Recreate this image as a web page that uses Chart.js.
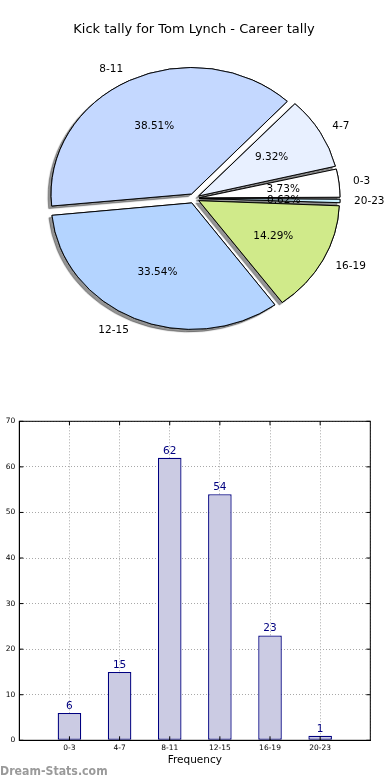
<!DOCTYPE html>
<html>
<head>
<meta charset="utf-8">
<script src="https://cdn.jsdelivr.net/npm/chart.js@4"></script>
<style>
  body { margin: 0; background: #fff; width: 390px; height: 780px; overflow: hidden; position: relative; }
  canvas { position: absolute; left: 0; }
  #pieChart { top: 0; }
  #barChart { top: 400px; }
  #mark { position: absolute; left: 0; top: 763px; font: bold 11px 'DejaVu Sans', sans-serif; color: #9a9a9a; transform: scaleY(1.15); transform-origin: left top; }
</style>
</head>
<body>
<canvas id="pieChart" width="390" height="400"></canvas>
<canvas id="barChart" width="390" height="380"></canvas>
<div id="mark">Dream-Stats.com</div>
<script>
const categories = ['0-3', '4-7', '8-11', '12-15', '16-19', '20-23'];
const kicks = [6, 15, 62, 54, 23, 1];
const sliceColors = ['#ffffff', '#e8f0ff', '#c4d8ff', '#b4d4ff', '#d0ea8a', '#c8f0ff'];
const yTicks = [0, 10, 20, 30, 40, 50, 60, 70];

Chart.defaults.font.family = "'DejaVu Sans', sans-serif";
Chart.defaults.color = '#000';

const total = kicks.reduce((a, b) => a + b, 0);
// matplotlib goes counter-clockwise from 3 o'clock, chart.js clockwise -> reverse
const pieLabels = categories.slice().reverse();
const pieValues = kicks.slice().reverse();
const pieColors = sliceColors.slice().reverse();

const squash = 0.9;    // the pie in the picture is a bit flattened
const pieR = 140.5;
const shift = 5.5;     // explode distance in px
const explode = shift * 4;   // chart.js moves a slice by offset/4

const ellipsePlugin = {
  id: 'ellipse',
  beforeDatasetsDraw(chart) {
    const ctx = chart.ctx;
    const arcs = chart.getDatasetMeta(0).data;
    // chart.js grows each offset slice by a bit, take it back so all have the same radius
    arcs.forEach(el => {
      const circ = el.endAngle - el.startAngle;
      el.outerRadius = pieR - shift * (1 - Math.sin(Math.min(Math.PI, circ)));
    });
    const cx = arcs[0].x, cy = arcs[0].y;
    ctx.save();
    ctx.translate(cx, cy);
    ctx.scale(1, squash);
    ctx.translate(-cx, -cy);
    // shadows first, below every wedge
    ctx.save();
    ctx.shadowColor = 'rgba(0,0,0,0.42)';
    ctx.shadowOffsetX = -3;
    ctx.shadowOffsetY = 2.5;
    ctx.shadowBlur = 1;
    arcs.forEach(el => el.draw(ctx));
    ctx.restore();
  },
  afterDatasetsDraw(chart) {
    const ctx = chart.ctx;
    ctx.restore();
    const arcs = chart.getDatasetMeta(0).data;
    ctx.save();
    ctx.font = "10.5px 'DejaVu Sans', sans-serif";
    ctx.fillStyle = '#000';
    ctx.textBaseline = 'middle';
    arcs.forEach((el, i) => {
      const mid = (el.startAngle + el.endAngle) / 2;
      const c = Math.cos(mid), s = Math.sin(mid);
      // category label outside
      const lr = shift + 1.1 * pieR;
      ctx.textAlign = c > 0 ? 'left' : 'right';
      ctx.fillText(pieLabels[i], el.x + c * lr, el.y + s * lr * squash);
      // percentage inside
      const pr = shift + 0.6 * pieR;
      ctx.textAlign = 'center';
      ctx.fillText((pieValues[i] / total * 100).toFixed(2) + '%', el.x + c * pr, el.y + s * pr * squash);
    });
    ctx.restore();
  }
};

new Chart(document.getElementById('pieChart'), {
  type: 'pie',
  data: {
    labels: pieLabels,
    datasets: [{
      data: pieValues,
      backgroundColor: pieColors,
      borderColor: '#000',
      borderWidth: 1,
      offset: explode
    }]
  },
  options: {
    responsive: false,
    animation: false,
    rotation: 90,
    radius: pieR,
    layout: { padding: { left: 0, right: 2, top: 0, bottom: 40.5 } },
    events: [],
    plugins: {
      legend: { display: false },
      tooltip: { enabled: false },
      title: {
        display: true,
        text: 'Kick tally for Tom Lynch - Career tally',
        color: '#000',
        font: { size: 13, weight: 'normal' },
        padding: { top: 21.7, bottom: 0 }
      }
    }
  },
  plugins: [ellipsePlugin]
});

const barPlugin = {
  id: 'barExtras',
  afterDatasetsDraw(chart) {
    const ctx = chart.ctx;
    ctx.save();
    ctx.font = "10.5px 'DejaVu Sans', sans-serif";
    ctx.fillStyle = '#000080';
    ctx.textAlign = 'center';
    ctx.textBaseline = 'bottom';
    chart.getDatasetMeta(0).data.forEach((el, i) => {
      ctx.fillText(String(kicks[i]), el.x, el.y - 1.5);
    });
    ctx.restore();
  },
  afterDraw(chart) {
    const ctx = chart.ctx;
    const a = chart.chartArea;
    ctx.save();
    ctx.strokeStyle = '#000';
    ctx.lineWidth = 1;
    ctx.strokeRect(a.left, a.top, a.right - a.left, a.bottom - a.top);
    // small inward tick marks like matplotlib
    ctx.beginPath();
    chart.scales.y.ticks.forEach(t => {
      const y = chart.scales.y.getPixelForValue(t.value);
      ctx.moveTo(a.left, y); ctx.lineTo(a.left + 4, y);
      ctx.moveTo(a.right, y); ctx.lineTo(a.right - 4, y);
    });
    categories.forEach((c, i) => {
      const x = chart.scales.x.getPixelForValue(i);
      ctx.moveTo(x, a.bottom); ctx.lineTo(x, a.bottom - 4);
      ctx.moveTo(x, a.top); ctx.lineTo(x, a.top + 4);
    });
    ctx.stroke();
    ctx.restore();
  }
};

new Chart(document.getElementById('barChart'), {
  type: 'bar',
  data: {
    datasets: [{
      data: categories.map((c, i) => ({ x: i, y: kicks[i] })),
      backgroundColor: '#cbcbe3',
      borderColor: '#000080',
      borderWidth: 1.3,
      borderSkipped: false,
      categoryPercentage: 1,
      barPercentage: 0.47
    }]
  },
  options: {
    responsive: false,
    animation: false,
    events: [],
    layout: { padding: { left: 0, right: 19.7, top: 21.3, bottom: 0 } },
    plugins: { legend: { display: false }, tooltip: { enabled: false } },
    scales: {
      x: {
        type: 'linear',
        min: -1,
        max: 6,
        offset: false,
        afterFit(scale) { scale.height = 39.7; },
        ticks: {
          stepSize: 1,
          padding: 3,
          font: { size: 7.5 },
          color: '#000',
          callback: v => categories[v] ?? ''
        },
        grid: { color: '#a8a8a8', lineWidth: 1, drawTicks: false, offset: false },
        border: { color: '#000', dash: [1, 2] },
        title: {
          display: true,
          text: 'Frequency',
          color: '#000',
          font: { size: 10.5 },
          padding: { top: 0, bottom: 13.4 }
        }
      },
      y: {
        min: 0,
        max: 70,
        afterFit(scale) { scale.width = 19.3; },
        afterBuildTicks(scale) { scale.ticks = yTicks.map(v => ({ value: v })); },
        ticks: { padding: 4, font: { size: 7.5 }, color: '#000' },
        grid: { color: '#a8a8a8', lineWidth: 1, drawTicks: false },
        border: { color: '#000', dash: [1, 2] }
      }
    }
  },
  plugins: [barPlugin]
});
</script>
</body>
</html>
